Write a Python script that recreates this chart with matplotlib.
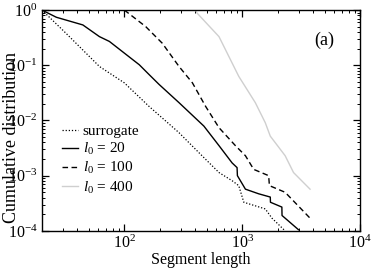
import matplotlib
matplotlib.use("Agg")
import matplotlib.pyplot as plt
from matplotlib.ticker import LogLocator, NullFormatter

plt.rcParams['font.family'] = ['Liberation Serif', 'DejaVu Serif']
plt.rcParams['mathtext.fontset'] = 'custom'
plt.rcParams['mathtext.rm'] = 'Liberation Serif'
plt.rcParams['mathtext.it'] = 'Liberation Serif:italic'
plt.rcParams['mathtext.bf'] = 'Liberation Serif:bold'

# surrogate
sur_x = [20, 32, 61.5, 100, 162, 291, 430, 635, 821, 934, 1031, 1568, 1787, 2311]
sur_y = [1.0, 0.38, 0.095, 0.048, 0.018, 0.006, 0.0026, 0.00114, 0.00081, 0.00066, 0.00033, 0.00025, 0.00017, 0.0001]
# l0 = 20
l20_x = [20, 26.5, 44.5, 61.5, 74.7, 100, 134, 162, 197, 291, 473, 635, 821, 904, 910, 1064, 1377, 1729, 1735, 2168, 2175, 3000]
l20_y = [1.0, 0.74, 0.537, 0.33, 0.27, 0.166, 0.102, 0.068, 0.045, 0.021, 0.0079, 0.0035, 0.0017, 0.0014, 0.001, 0.00057, 0.00047, 0.00041, 0.00033, 0.00027, 0.00019, 0.000105]
# l0 = 100
l100_x = [100, 152, 210, 291, 378, 489, 635, 875, 1064, 1251, 1675, 1700, 2311, 3758]
l100_y = [1.0, 0.5, 0.25, 0.095, 0.048, 0.018, 0.0074, 0.0035, 0.0023, 0.0013, 0.001, 0.00066, 0.0005, 0.00017]
# l0 = 400
l400_x = [400, 416, 635, 934, 1291, 1568, 1729, 2311, 2722, 3758]
l400_y = [1.0, 0.87, 0.33, 0.063, 0.021, 0.0091, 0.0052, 0.0023, 0.00114, 0.00057]

fig = plt.figure(figsize=(3.74, 2.71), dpi=100)
ax = fig.add_axes([0.112, 0.148, 0.851, 0.815])

ax.plot(sur_x, sur_y, color='black', lw=0.9, ls=(0, (1, 1.5)), label='surrogate')
ax.plot(l20_x, l20_y, color='black', lw=1.0, ls='-', label='$l_0$ = 20')
ax.plot(l100_x, l100_y, color='black', lw=1.0, ls=(0, (4, 2.5)), label='$l_0$ = 100')
ax.plot(l400_x, l400_y, color='#cfcfcf', lw=1.0, ls='-', label='$l_0$ = 400')

ax.set_xscale('log')
ax.set_yscale('log')
ax.set_xlim(20, 1e4)
ax.set_ylim(1e-4, 1)
ax.xaxis.set_major_locator(LogLocator(base=10, numticks=10))
ax.xaxis.set_minor_locator(LogLocator(base=10, subs=range(2, 10), numticks=20))
ax.xaxis.set_minor_formatter(NullFormatter())
ax.yaxis.set_minor_locator(LogLocator(base=10, subs=range(2, 10), numticks=20))
ax.yaxis.set_minor_formatter(NullFormatter())

ax.tick_params(which='both', direction='in', top=True, right=True, labelsize=11.5, pad=3)
ax.tick_params(which='major', length=5, width=0.9)
ax.tick_params(which='minor', length=2.5, width=0.7)
for s in ax.spines.values():
    s.set_linewidth(1.0)

ax.set_xlabel('Segment length', fontsize=11.5, labelpad=0)
ax.set_ylabel('Cumulative distribution', fontsize=13)
ax.yaxis.set_label_coords(-0.068, 0.425)

ax.text(0.887, 0.864, '(a)', transform=ax.transAxes, fontsize=13, ha='center', va='center')

ax.legend(loc='upper left', bbox_to_anchor=(0.063, 0.482), frameon=False, fontsize=11,
          handlelength=1.05, handletextpad=0.3, labelspacing=0.2, borderaxespad=0.0, borderpad=0.0)

fig.savefig('out.png', dpi=100)
